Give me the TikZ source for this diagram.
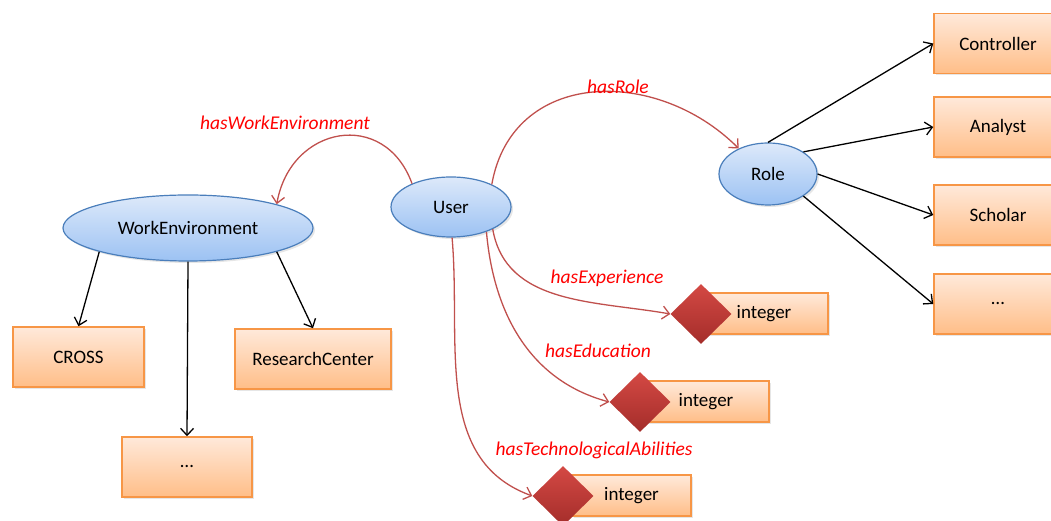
\documentclass[tikz,border=0pt]{standalone}
\usepackage{fontspec}
\setmainfont{Carlito}
\usetikzlibrary{arrows.meta,shapes.geometric,shadows}
\definecolor{BoxLine}{HTML}{F79646}
\definecolor{BoxTop}{HTML}{FFE9DA}
\definecolor{BoxBot}{HTML}{FFBE88}
\definecolor{EllLine}{HTML}{4A7EBB}
\definecolor{EllTop}{HTML}{DDE9FA}
\definecolor{EllBot}{HTML}{9CC2F3}
\definecolor{DiaTop}{HTML}{D44944}
\definecolor{DiaBot}{HTML}{A42D2A}
\definecolor{Rel}{HTML}{C0504D}
\definecolor{RelText}{HTML}{FF0000}

\begin{document}
\begin{tikzpicture}[x=1pt,y=1pt,font=\fontsize{19}{22}\selectfont,
  cls/.style={ellipse,draw=EllLine,line width=1.2pt,top color=EllTop,bottom color=EllBot,inner sep=0pt,drop shadow={opacity=0.2,shadow xshift=2pt,shadow yshift=-2pt}},
  val/.style={rectangle,draw=BoxLine,line width=1.5pt,top color=BoxTop,bottom color=BoxBot,minimum height=60pt,inner sep=0pt,drop shadow={opacity=0.2,shadow xshift=2pt,shadow yshift=-2pt}},
  dtype/.style={diamond,top color=DiaTop,bottom color=DiaBot,minimum width=61pt,minimum height=60pt,inner sep=0pt},
  isa/.style={-{Straight Barb[length=7pt,width=13pt]},line width=1.3pt,black},
  rel/.style={-{Straight Barb[length=7pt,width=13pt]},line width=1.3pt,Rel},
  rlabel/.style={text=RelText,font=\fontsize{19.5}{22}\selectfont\itshape}]
\useasboundingbox (0,0) rectangle (1051,521);

% classes
\node[cls,minimum width=120pt,minimum height=60pt] (user) at (451,314) {User};
\node[cls,minimum width=98pt,minimum height=62pt] (role) at (768,347) {Role};
\node[cls,minimum width=250pt,minimum height=66pt] (we) at (188,293) {WorkEnvironment};

% roles
\foreach \n/\y/\t in {controller/477.5/Controller,analyst/394/Analyst,scholar/306/Scholar,rdots/217/\dots} {\node[val,minimum width=128pt] (\n) at (998,\y) {\t};}
\foreach \a/\n in {90/controller,32/analyst,0/scholar,-32/rdots} {\draw[isa] (role.\a) -- (\n.west);}

% work environments
\node[val,minimum width=131pt] (cross) at (78.5,164) {CROSS};
\node[val,minimum width=156pt] (research) at (313,162) {ResearchCenter};
\node[val,minimum width=130pt] (wdots) at (187,54) {\dots};
\draw[isa] (we.195) -- (cross.north);
\draw[isa] (we.south) -- (wdots.north);
\draw[isa] (we.345) -- (research.north);

% datatypes
\node[val,minimum width=128pt,minimum height=41pt] (int1) at (764,207.5) {integer};
\node[dtype] (d1) at (701,207) {};
\node[val,minimum width=126pt,minimum height=41pt] (int2) at (706,119.5) {integer};
\node[dtype] (d2) at (640,119) {};
\node[val,minimum width=119pt,minimum height=41pt] (int3) at (631.5,25.5) {integer};
\node[dtype] (d3) at (563,25) {};

% properties
\draw[rel] (user.149) to[out=110,in=80,looseness=1.5] (we.15);
\draw[rel] (user.29) to[out=80,in=135,looseness=1.2] (role.139);
\draw[rel] (user.-28) to[out=-80,in=170] (d1.west);
\draw[rel] (user.-35) to[out=-85,in=165] (d2.west);
\draw[rel] (user.-88) to[out=-85,in=160] (d3.west);
\node[rlabel] (lwe) at (285,398) {hasWorkEnvironment};
\node[rlabel] (lrole) at (618,434) {hasRole};
\node[rlabel] (lexp) at (607,243) {hasExperience};
\node[rlabel] (ledu) at (598,170) {hasEducation};
\node[rlabel] (ltech) at (594,71) {hasTechnologicalAbilities};
\end{tikzpicture}
\end{document}
